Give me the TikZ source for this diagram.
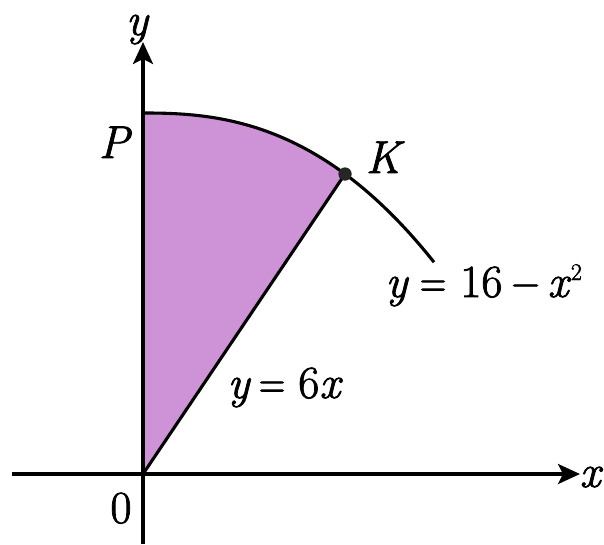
\documentclass[tikz,border=0pt]{standalone}
\usepackage{graphicx}
\usepackage{fontspec}
\newfontfamily\heavy[FakeBold=1.6, ItalicFeatures={FakeBold=1.6}]{Latin Modern Roman}
\usetikzlibrary{arrows.meta}
\definecolor{regionfill}{RGB}{206,146,214}
\newcommand{\sqsup}{\raisebox{17pt}{\fontsize{24}{26}\selectfont 2}}
\newcommand{\narroweq}{\scalebox{0.8}[1]{=}}
\newcommand{\narrowminus}{\scalebox{0.85}[1]{−}}
\begin{document}
\begin{tikzpicture}[x=1pt,y=-1pt,line width=3.1pt,
  lbl/.style={font=\heavy\fontsize{46}{52}\selectfont, inner sep=0pt, anchor=base},
  axisarrow/.style={-{Stealth[length=22pt,width=20pt,inset=5pt]}},
  dotstyle/.style={circle, fill=black!85, inner sep=0pt, minimum size=13pt}]
\useasboundingbox (0,0) rectangle (604,544);
\coordinate (O) at (143,474);
\coordinate (P) at (143,113);
\coordinate (ybot) at (143,544);
\coordinate (ytop) at (143,42);
\coordinate (xleft) at (12,474);
\coordinate (xright) at (580,474);
% shaded region
\fill[regionfill] (P) -- plot[domain=0.5:202,samples=80] ({143+\x},{113+61*(\x/202)^2.45}) -- (O) -- cycle;
% axes
\draw[axisarrow] (ybot) -- (ytop);
\draw[axisarrow] (xleft) -- (xright);
% curve y = 16 - x^2
\draw (P) -- plot[domain=0.5:291,samples=100] ({143+\x},{113+61*(\x/202)^2.45});
% point K
\node[dotstyle] (Kdot) at (345,174) {};
% line y = 6x
\draw (O) -- (Kdot.center);
\node[dotstyle] at (Kdot.center) {};
% labels
\node[lbl] (ylab) at (137,35) {\itshape y};
\node[lbl] (xlab) at (590,487) {\itshape x};
\node[lbl] (zero) at (121,523) {0};
\node[lbl] (Plab) at (114,158) {\itshape P};
\node[lbl] (Klab) at (383,173) {\itshape K};
\node[lbl, anchor=base west] (curvelab) at (384,297) {\textit{y}\hspace{11pt}\narroweq\hspace{14pt}16\hspace{9pt}\narrowminus\hspace{8pt}\textit{x}\sqsup};
\node[lbl, anchor=base west] (linelab) at (226,398) {\textit{y}\hspace{8pt}\narroweq\hspace{13pt}6\textit{x}};
\end{tikzpicture}
\end{document}
